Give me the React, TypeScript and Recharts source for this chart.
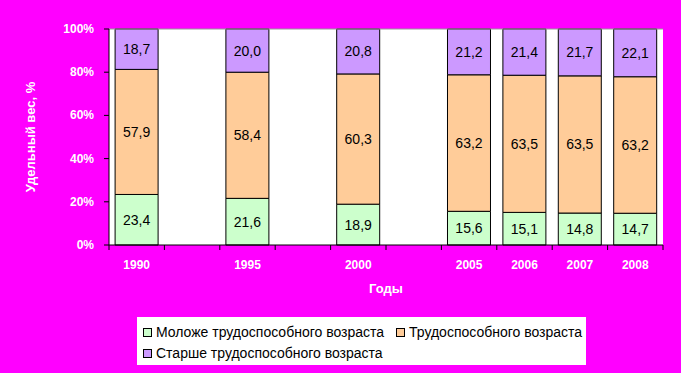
import React from "react";
import {
  Bar,
  BarChart,
  CartesianGrid,
  LabelList,
  ReferenceLine,
  XAxis,
  YAxis,
} from "recharts";

// Chart data (empty slots keep the gaps between 1990, 1995, 2000 and 2005)
const years = ["1990", "", "1995", "", "2000", "", "2005", "2006", "2007", "2008"];
const younger = [23.4, null, 21.6, null, 18.9, null, 15.6, 15.1, 14.8, 14.7];
const working = [57.9, null, 58.4, null, 60.3, null, 63.2, 63.5, 63.5, 63.2];
const older = [18.7, null, 20.0, null, 20.8, null, 21.2, 21.4, 21.7, 22.1];
const yTicks = [0, 20, 40, 60, 80, 100];

const seriesNames = [
  "Моложе трудоспособного возраста",
  "Трудоспособного возраста",
  "Старше трудоспособного возраста",
];
const colors = ["#CCFFCC", "#FFCC99", "#CC99FF"];

const data = years.map((year, i) => ({
  year,
  younger: younger[i],
  working: working[i],
  older: older[i],
}));

const FONT = "'Liberation Sans', Arial, sans-serif";
const W = 681;
const H = 373;
const LEFT = 109;
const RIGHT = 18;
const band = (W - LEFT - RIGHT) / years.length;

const fmt = (v: any) =>
  v == null ? "" : Number(v).toFixed(1).replace(".", ",");

const XTick = (props: any) => {
  const { x, y, payload, index } = props;
  const left = x - band / 2;
  return (
    <g>
      <line x1={left} x2={left} y1={y - 5} y2={y} stroke="#000" />
      {index === years.length - 1 && (
        <line x1={x + band / 2} x2={x + band / 2} y1={y - 5} y2={y} stroke="#000" />
      )}
      <text
        x={x}
        y={y + 19}
        textAnchor="middle"
        fill="#fff"
        fontSize={12}
        fontWeight="bold"
        fontFamily={FONT}
      >
        {payload.value}
      </text>
    </g>
  );
};

const YTick = (props: any) => {
  const { x, y, payload } = props;
  return (
    <text
      x={x - 8}
      y={y + 4}
      textAnchor="end"
      fill="#fff"
      fontSize={12}
      fontWeight="bold"
      fontFamily={FONT}
    >
      {payload.value}%
    </text>
  );
};

const Legend = () => (
  <div
    style={{
      position: "absolute",
      left: 137,
      top: 317,
      width: 449,
      height: 48,
      background: "#fff",
      fontFamily: FONT,
      fontSize: 14,
      lineHeight: "16px",
      color: "#000",
    }}
  >
    {seriesNames.map((name, i) => (
      <div
        key={name}
        style={{
          position: "absolute",
          left: i === 1 ? 259 : 6,
          top: i === 2 ? 28 : 7,
          display: "flex",
          alignItems: "center",
          whiteSpace: "nowrap",
        }}
      >
        <span
          style={{
            display: "inline-block",
            width: 7,
            height: 7,
            background: colors[i],
            border: "1px solid #000",
            marginRight: 4,
          }}
        />
        {name}
      </div>
    ))}
  </div>
);

const App = () => {
  const keys = ["younger", "working", "older"];
  return (
    <div
      style={{
        position: "absolute",
        left: 0,
        top: 0,
        width: W,
        height: H,
        background: "#FF00FF",
      }}
    >
      <BarChart
        width={W}
        height={H}
        data={data}
        margin={{ top: 29, right: RIGHT, left: 0, bottom: 98 }}
        barCategoryGap="11%"
        style={{ fontFamily: FONT }}
      >
        <CartesianGrid fill="#fff" horizontal={false} vertical={false} />
        <XAxis
          dataKey="year"
          interval={0}
          height={30}
          tickSize={5}
          tickMargin={0}
          tickLine={false}
          axisLine={{ stroke: "#000" }}
          tick={<XTick />}
          label={{
            value: "Годы",
            position: "bottom",
            offset: 9,
            fill: "#fff",
            fontSize: 13,
            fontWeight: "bold",
            fontFamily: FONT,
          }}
        />
        <YAxis
          width={LEFT}
          domain={[0, 100]}
          ticks={yTicks}
          tickSize={5}
          tickLine={{ stroke: "#000" }}
          axisLine={{ stroke: "#000" }}
          tick={<YTick />}
          label={{
            value: "Удельный вес, %",
            angle: -90,
            position: "insideLeft",
            offset: 30,
            fill: "#fff",
            fontSize: 13,
            fontWeight: "bold",
            fontFamily: FONT,
            style: { textAnchor: "middle" },
          }}
        />
        <YAxis
          yAxisId="r"
          orientation="right"
          width={0}
          domain={[0, 100]}
          tick={false}
          tickLine={false}
          axisLine={{ stroke: "#999" }}
        />
        <ReferenceLine y={100} stroke="#999" />
        {keys.map((k, i) => (
          <Bar
            key={k}
            dataKey={k}
            name={seriesNames[i]}
            stackId="a"
            fill={colors[i]}
            stroke="#000"
            strokeWidth={1}
            isAnimationActive={false}
          >
            <LabelList
              dataKey={k}
              position="center"
              formatter={fmt}
              fill="#000"
              fontSize={14}
              fontFamily={FONT}
            />
          </Bar>
        ))}
      </BarChart>
      <Legend />
    </div>
  );
};

export default App;
